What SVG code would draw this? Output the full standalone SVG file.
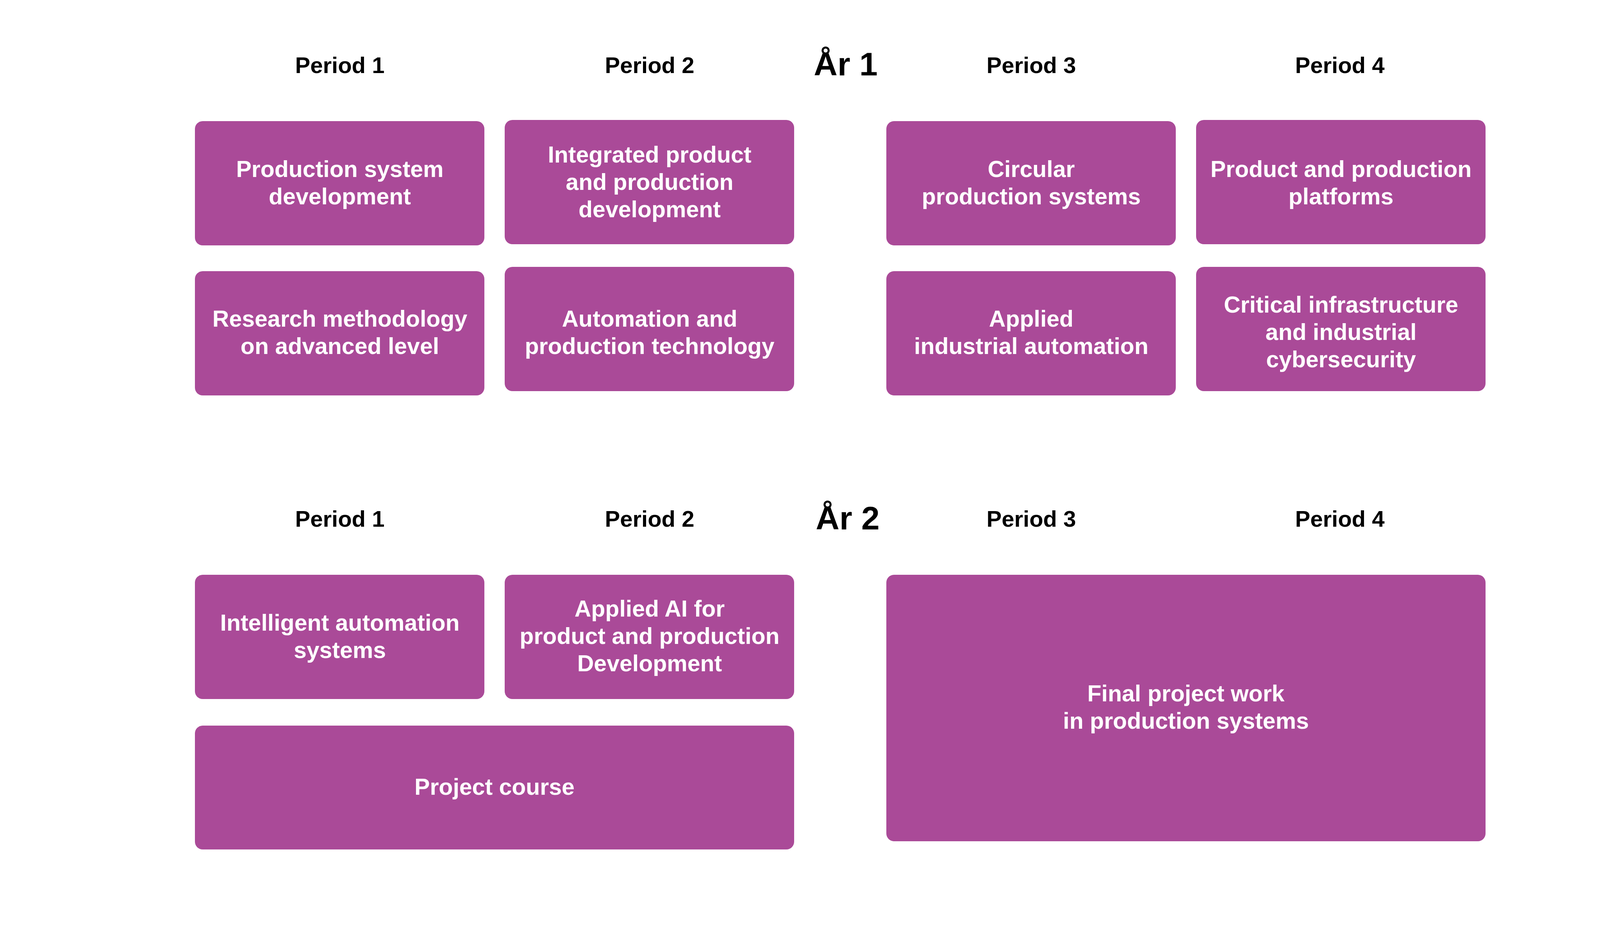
<svg xmlns="http://www.w3.org/2000/svg" width="4267" height="2375" viewBox="0 0 4267 2375">
<style>
.b{fill:#AA4A98}
.t{fill:#fff;font-family:"Liberation Sans",Arial,sans-serif;font-weight:bold;font-size:59px;text-anchor:middle}
.h{fill:#000;font-family:"Liberation Sans",Arial,sans-serif;font-weight:bold;font-size:58px;text-anchor:middle}
.y{fill:#000;font-family:"Liberation Sans",Arial,sans-serif;font-weight:bold;font-size:84px;text-anchor:middle}
</style>
<rect width="4267" height="2375" fill="#fff"/>
<g id="headers">
<text class="h" x="870" y="187">Period 1</text>
<text class="h" x="1663" y="187">Period 2</text>
<text class="y" x="2165" y="193">År 1</text>
<text class="h" x="2640" y="187">Period 3</text>
<text class="h" x="3430" y="187">Period 4</text>
<text class="h" x="870" y="1348">Period 1</text>
<text class="h" x="1663" y="1348">Period 2</text>
<text class="y" x="2170" y="1355">År 2</text>
<text class="h" x="2640" y="1348">Period 3</text>
<text class="h" x="3430" y="1348">Period 4</text>
</g>
<g id="n1"><rect class="b" x="499" y="310" width="741" height="318" rx="20"/><text class="t" x="870" y="453">Production system</text><text class="t" x="870" y="523">development</text></g>
<g id="n2"><rect class="b" x="1292" y="307" width="741" height="318" rx="20"/><text class="t" x="1663" y="416">Integrated product</text><text class="t" x="1663" y="486">and production</text><text class="t" x="1663" y="556">development</text></g>
<g id="n3"><rect class="b" x="2269" y="310" width="741" height="318" rx="20"/><text class="t" x="2640" y="453">Circular</text><text class="t" x="2640" y="523">production systems</text></g>
<g id="n4"><rect class="b" x="3062" y="307" width="741" height="318" rx="20"/><text class="t" x="3433" y="453">Product and production</text><text class="t" x="3433" y="523">platforms</text></g>
<g id="n5"><rect class="b" x="499" y="694" width="741" height="318" rx="20"/><text class="t" x="870" y="836">Research methodology</text><text class="t" x="870" y="906">on advanced level</text></g>
<g id="n6"><rect class="b" x="1292" y="683" width="741" height="318" rx="20"/><text class="t" x="1663" y="836">Automation and</text><text class="t" x="1663" y="906">production technology</text></g>
<g id="n7"><rect class="b" x="2269" y="694" width="741" height="318" rx="20"/><text class="t" x="2640" y="836">Applied</text><text class="t" x="2640" y="906">industrial automation</text></g>
<g id="n8"><rect class="b" x="3062" y="683" width="741" height="318" rx="20"/><text class="t" x="3433" y="800">Critical infrastructure</text><text class="t" x="3433" y="870">and industrial</text><text class="t" x="3433" y="940">cybersecurity</text></g>
<g id="n9"><rect class="b" x="499" y="1471" width="741" height="318" rx="20"/><text class="t" x="870" y="1614">Intelligent automation</text><text class="t" x="870" y="1684">systems</text></g>
<g id="n10"><rect class="b" x="1292" y="1471" width="741" height="318" rx="20"/><text class="t" x="1663" y="1578">Applied AI for</text><text class="t" x="1663" y="1648">product and production</text><text class="t" x="1663" y="1718">Development</text></g>
<g id="n11"><rect class="b" x="499" y="1857" width="1534" height="317" rx="20"/><text class="t" x="1266" y="2034">Project course</text></g>
<g id="n12"><rect class="b" x="2269" y="1471" width="1534" height="682" rx="20"/><text class="t" x="3036" y="1795">Final project work</text><text class="t" x="3036" y="1865">in production systems</text></g>
<g id="connectors"/>
</svg>
